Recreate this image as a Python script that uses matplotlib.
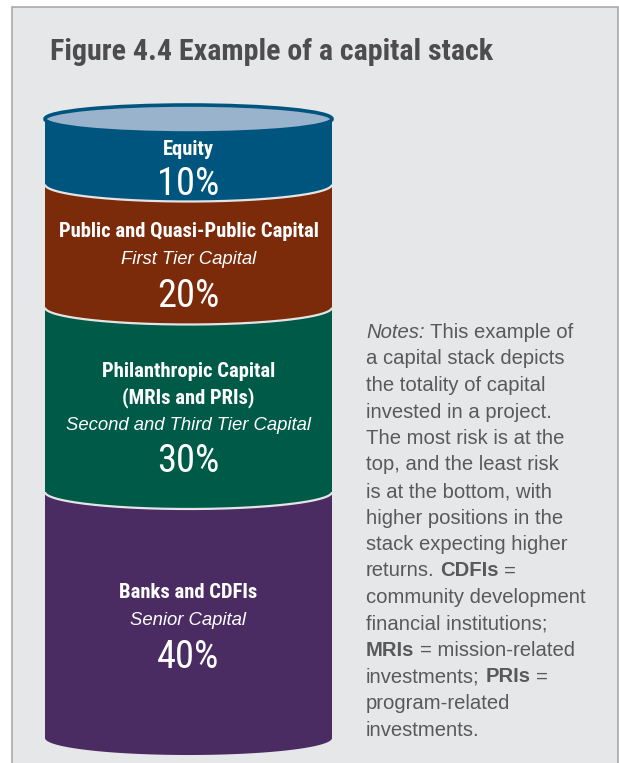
import numpy as np
import matplotlib
matplotlib.use("Agg")
import matplotlib.pyplot as plt
from matplotlib import font_manager
from matplotlib.font_manager import FontProperties
from matplotlib.patches import Polygon, Ellipse, Rectangle

# Capital stack, top to bottom
layers = ["Equity", "Public and Quasi-Public Capital", "Philanthropic Capital\n(MRIs and PRIs)",
          "Banks and CDFIs"]
tiers = ["", "First Tier Capital", "Second and Third Tier Capital", "Senior Capital"]
shares = [10, 20, 30, 40]
colors = ["#00557f", "#7b2a0a", "#005a48", "#4b2c62"]

note_lines = [
    [("Notes:", "italic"), ("This example of", "normal")],
    [("a capital stack depicts", "normal")],
    [("the totality of capital", "normal")],
    [("invested in a project.", "normal")],
    [("The most risk is at the", "normal")],
    [("top, and the least risk", "normal")],
    [("is at the bottom, with", "normal")],
    [("higher positions in the", "normal")],
    [("stack expecting higher", "normal")],
    [("returns.", "normal"), ("CDFIs", "bold"), ("=", "normal")],
    [("community development", "normal")],
    [("financial institutions;", "normal")],
    [("MRIs", "bold"), ("= mission-related", "normal")],
    [("investments;", "normal"), ("PRIs", "bold"), ("=", "normal")],
    [("program-related", "normal")],
    [("investments.", "normal")],
]


def narrow_font(weight):
    # look for a condensed face; fall back to Roboto, which runs narrower than Arial
    fonts = font_manager.fontManager.ttflist
    for fam in ["Liberation Sans Narrow", "Roboto Condensed", "Noto Sans", "Open Sans",
                "DejaVu Sans", "Roboto"]:
        faces = [f for f in fonts if f.name == fam and str(f.stretch) not in ("normal", "500")]
        if faces:
            return FontProperties(family=fam, stretch=faces[0].stretch, weight=weight)
    return FontProperties(family="Roboto", weight=weight)


def px(size):
    # font size given in pixels -> points
    return size * 0.72


sans = "Liberation Sans"

W, H = 619, 763
fig = plt.figure(figsize=(W / 100, H / 100), dpi=100)
fig.patch.set_facecolor("white")
ax = fig.add_axes([0, 0, 1, 1])
ax.set_xlim(0, W)
ax.set_ylim(H, 0)
ax.axis("off")

# grey panel with a thin border
ax.add_patch(Rectangle((11.5, 6.5), 606, 800, facecolor="#e6e7e8", edgecolor="#a7a9ac", lw=1.2))

title_fp = narrow_font("bold")
title_fp.set_size(px(30))
ax.text(50, 60, "Figure 4.4 Example of a capital stack", fontproperties=title_fp,
        color="#4d4d4f", va="baseline", ha="left")

# cylinder geometry
cx, rx = 188.5, 143.5
cap_y, top, bottom = 119, 123, 738
ry_cap, ry_arc = 14, 17
t = np.linspace(np.pi, 0, 200)
arc_x = cx + rx * np.cos(t)

edges = top + (bottom - top) * np.concatenate([[0], np.cumsum(shares)]) / sum(shares)

for i, (c, y0, y1) in enumerate(zip(colors, edges[:-1], edges[1:])):
    if i == 0:
        upper = np.column_stack([arc_x, cap_y - ry_cap * np.sin(t)])
    else:
        upper = np.column_stack([arc_x, y0 + ry_arc * np.sin(t)])
    lower = np.column_stack([arc_x[::-1], y1 + ry_arc * np.sin(t[::-1])])
    ax.add_patch(Polygon(np.vstack([upper, lower]), closed=True, facecolor=c, edgecolor="none"))

# light seams between layers
for y in edges[1:-1]:
    ax.plot(arc_x, y + ry_arc * np.sin(t), color="#e4e4e4", lw=1.6, solid_capstyle="butt")

# cylinder cap
ax.add_patch(Ellipse((cx, cap_y), 2 * rx, 2 * ry_cap, facecolor="#9ab3cc", edgecolor="#00557f", lw=2.6))

name_fp = narrow_font("bold")
name_fp.set_size(px(20.6))
pct_fp = narrow_font("normal")
pct_fp.set_size(px(38.5))

# labels inside each layer: (name baseline, tier baseline, percent baseline)
label_y = [(155, None, 195), (237, 264, 307), (377, 430, 472), (598, 625, 668)]
for name, tier, share, (yn, yt, yp) in zip(layers, tiers, shares, label_y):
    for k, line in enumerate(name.split("\n")):
        ax.text(cx, yn + 26 * k, line, fontproperties=name_fp, color="white",
                ha="center", va="baseline")
    if tier:
        ax.text(cx, yt, tier, family=sans, style="italic", fontsize=px(18.5),
                color="white", ha="center", va="baseline")
    ax.text(cx, yp, f"{share}%", fontproperties=pct_fp, color="white",
            ha="center", va="baseline")

# notes column with mixed styles
renderer = fig.canvas.get_renderer()
note_size = px(20.3)
note_color = "#58595b"


def width(s):
    tt = ax.text(0, 0, s, family=sans, fontsize=note_size)
    w = tt.get_window_extent(renderer).width
    tt.remove()
    return w


space = width("a a") - width("aa")
x0, y0, step = 366, 338, 26.5
for i, parts in enumerate(note_lines):
    x = x0
    for s, kind in parts:
        kw = {"style": "italic"} if kind == "italic" else {"weight": "bold"} if kind == "bold" else {}
        tt = ax.text(x, y0 + i * step, s, family=sans, fontsize=note_size, color=note_color,
                     ha="left", va="baseline", **kw)
        x = tt.get_window_extent(renderer).x1 + space

fig.savefig("out.png", dpi=100, facecolor="white")
